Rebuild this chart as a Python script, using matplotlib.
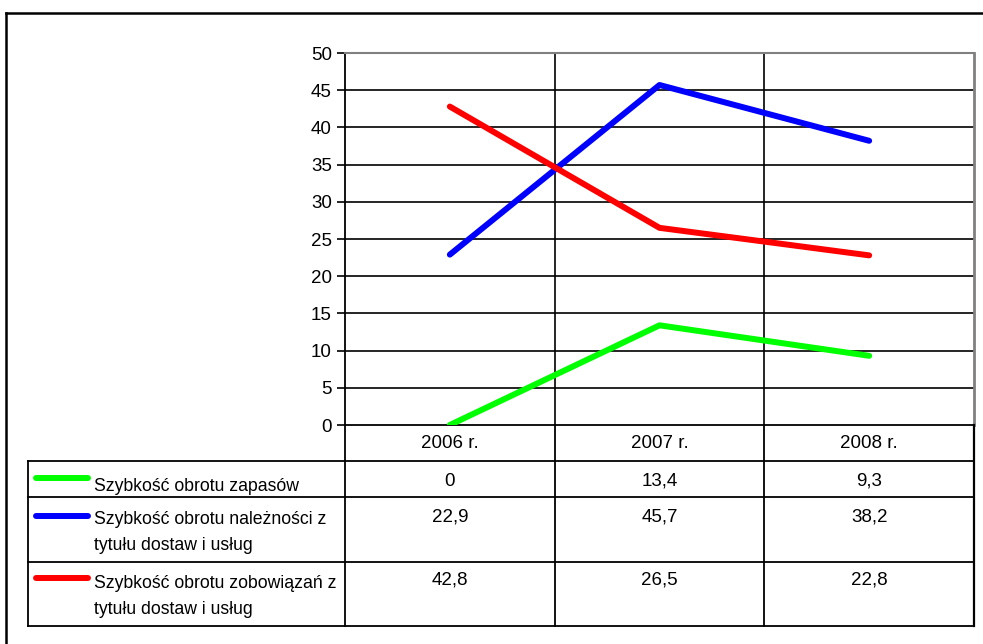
import matplotlib
matplotlib.use("Agg")
import matplotlib.pyplot as plt
from matplotlib.lines import Line2D

plt.rcParams['font.family'] = ['Liberation Sans', 'DejaVu Sans']

years = ["2006 r.", "2007 r.", "2008 r."]
series_names = [
    "Szybkość obrotu zapasów",
    "Szybkość obrotu należności z\ntytułu dostaw i usług",
    "Szybkość obrotu zobowiązań z\ntytułu dostaw i usług",
]
zapasy = [0, 13.4, 9.3]
naleznosci = [22.9, 45.7, 38.2]
zobowiazania = [42.8, 26.5, 22.8]
series_values = [zapasy, naleznosci, zobowiazania]
series_colors = ["#00ff00", "#0000ff", "#ff0000"]
yticks = [0, 5, 10, 15, 20, 25, 30, 35, 40, 45, 50]

W, H = 983, 644
FS = 13.5
FS_LAB = 12.7
fig = plt.figure(figsize=(W / 100, H / 100), dpi=100)

# plot area in pixels
L, R, T, B = 345, 974, 53, 425
ax = fig.add_axes([L / W, 1 - B / H, (R - L) / W, (B - T) / H])
ax.set_xlim(-0.5, len(years) - 0.5)
ax.set_ylim(0, 50)
ax.set_yticks(yticks)
ax.set_yticklabels([str(v) for v in yticks], fontsize=FS)
ax.set_xticks([])
ax.tick_params(axis='y', length=5.5, width=1.2, pad=4, colors='black')
for v in yticks[1:-1]:
    ax.axhline(v, color='black', lw=1.2, zorder=1)
for i in range(1, len(years)):
    ax.axvline(i - 0.5, color='black', lw=1.2, zorder=1)
ax.spines['left'].set_color('black')
ax.spines['left'].set_linewidth(1.3)
ax.spines['bottom'].set_color('black')
ax.spines['bottom'].set_linewidth(1.3)
ax.spines['top'].set_color('#808080')
ax.spines['top'].set_linewidth(1.5)
ax.spines['right'].set_color('#808080')
ax.spines['right'].set_linewidth(2)

xs = list(range(len(years)))
for vals, col in zip(series_values, series_colors):
    ax.plot(xs, vals, color=col, lw=4.3, solid_capstyle='round',
            solid_joinstyle='round', zorder=3)

# overlay axes in pixel coordinates for frame and data table
ov = fig.add_axes([0, 0, 1, 1], facecolor='none')
ov.set_xlim(0, W)
ov.set_ylim(H, 0)
ov.axis('off')

def hline(y, x0, x1, lw=1.3, c='black'):
    ov.add_line(Line2D([x0, x1], [y, y], color=c, lw=lw))

def vline(x, y0, y1, lw=1.3, c='black'):
    ov.add_line(Line2D([x, x], [y0, y1], color=c, lw=lw))

# outer frame (cut at right and bottom)
hline(13, 6, W + 5, lw=1.8)
vline(6, 13, H + 5, lw=1.8)

# table geometry
TL = 28
row_lines = [B, 461, 497, 561.5, 626]
colw = (R - L) / len(years)
col_edges = [L + i * colw for i in range(len(years) + 1)]

for y in row_lines[1:]:
    hline(y, TL, R)
vline(TL, row_lines[1], row_lines[-1])
for x in col_edges:
    vline(x, B, row_lines[-1], lw=1.6 if x == col_edges[-1] else 1.3)

# header
for i, yr in enumerate(years):
    ov.text(L + (i + 0.5) * colw, 443, yr, ha='center', va='center', fontsize=FS)

# rows
swatch_y = [478, 516, 578]
label_y = [486, 520, 584]
val_y = [481, 517, 580]
for r, (name, vals, col) in enumerate(zip(series_names, series_values, series_colors)):
    ov.add_line(Line2D([36, 88], [swatch_y[r]] * 2, color=col, lw=4.3,
                       solid_capstyle='round'))
    for k, ln in enumerate(name.split('\n')):
        ov.text(94, label_y[r] + k * 26, ln, ha='left', va='center', fontsize=FS_LAB)
    for i, v in enumerate(vals):
        s = ('%g' % v).replace('.', ',')
        ov.text(L + (i + 0.5) * colw, val_y[r], s, ha='center', va='center', fontsize=FS)

fig.savefig("out.png", dpi=100)
